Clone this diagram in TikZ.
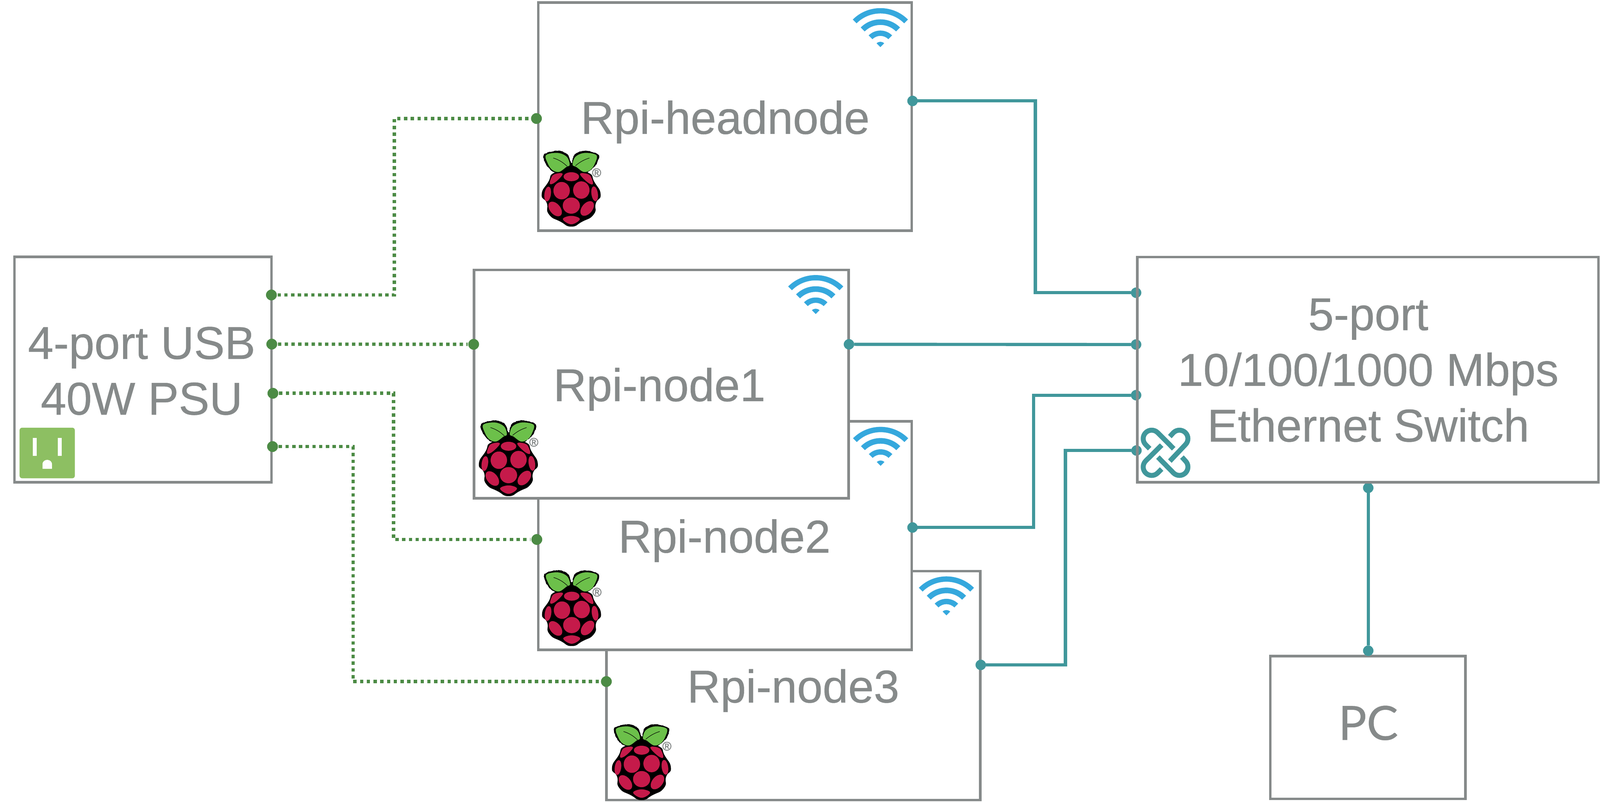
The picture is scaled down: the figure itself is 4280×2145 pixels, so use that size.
\documentclass[tikz,border=0pt]{standalone}
\usepackage{fontspec}
\setmainfont[FakeBold=0.5]{Liberation Sans}
\newfontfamily\pcfont[FakeBold=0.5]{Lato}
\newfontfamily\regfont[FakeBold=2]{Liberation Sans}
\usetikzlibrary{decorations.pathmorphing}
\definecolor{boxgrey}{HTML}{868A8A}
\definecolor{usbgreen}{HTML}{4C8B45}
\definecolor{nettea}{HTML}{40979B}
\definecolor{wifiblue}{HTML}{35A8DD}
\definecolor{plugbg}{HTML}{8DBF62}
\definecolor{berry}{HTML}{C51A4A}
\definecolor{leaf}{HTML}{6CC04A}
\tikzset{
  boxnode/.style={draw=boxgrey,fill=white,line width=6.8pt,inner sep=0pt,outer sep=0pt,rectangle},
  boxline/.style={draw=boxgrey,line width=6.8pt},
  lbl/.style={font=\fontsize{123}{149}\selectfont,text=boxgrey,inner sep=0pt,outer sep=0pt,anchor=base,align=center},
  gdot/.style={circle,fill=usbgreen,minimum size=29pt,inner sep=0pt,outer sep=2pt},
  tdot/.style={circle,fill=nettea,minimum size=28pt,inner sep=0pt,outer sep=0pt},
  gline/.style={draw=usbgreen,line width=9pt,dash pattern=on 9pt off 9pt,line cap=butt},
  tline/.style={draw=nettea,line width=8.5pt,line join=miter},
  knotline/.style={draw=nettea,line width=13.3pt,line cap=butt,line join=round},
  wifiband/.style={fill=wifiblue},
  pics/rpilogo/.style={code={
    \begin{scope}[x=.3333pt,y=-.3333pt]
      % leaves (black backing, green face)
      \fill[black,decorate,decoration={random steps,segment length=3pt,amplitude=.8pt}]
        plot[smooth cycle,tension=.6] coordinates {(108,100) (215,70) (295,100) (325,165) (352,100) (432,70) (538,100) (530,170) (470,232) (425,245) (325,240) (225,245) (170,232) (118,170)};
      \fill[black] (270,170) rectangle (380,260);
      % body
      \fill[black] plot[smooth cycle,tension=1] coordinates {(325,225) (460,245) (510,320) (560,420) (522,490) (505,580) (410,640) (325,678) (240,640) (145,580) (128,490) (87,420) (140,320) (190,245)};
      \fill[leaf] plot[smooth cycle,tension=.6] coordinates {(122,105) (215,87) (288,118) (312,182) (285,200) (225,240) (170,222) (135,170)};
      \fill[leaf] plot[smooth cycle,tension=.6] coordinates {(526,105) (432,87) (358,118) (335,182) (365,200) (425,240) (480,222) (515,170)};
      \draw[black,line width=1.2pt] (180,128) .. controls (235,145) and (265,170) .. (292,195);
      \draw[black,line width=1.2pt] (470,128) .. controls (415,145) and (385,168) .. (358,190);
      % drupelets
      \fill[berry] (325,278) ellipse [x radius=62,y radius=36];
      \fill[berry] plot[smooth cycle,tension=.7] coordinates {(255,255) (190,258) (160,295) (156,338) (205,315)};
      \fill[berry] plot[smooth cycle,tension=.7] coordinates {(395,255) (460,258) (490,295) (495,340) (445,315)};
      \fill[berry] (247,390) ellipse [x radius=66,y radius=70];
      \fill[berry] (405,385) ellipse [x radius=66,y radius=70];
      \fill[berry] (325,510) ellipse [x radius=69,y radius=65];
      \fill[berry,shift={(135,417)},rotate=-8] (0,0) ellipse [x radius=26,y radius=60];
      \fill[berry,shift={(512,415)},rotate=8] (0,0) ellipse [x radius=26,y radius=60];
      \fill[berry,shift={(195,537)},rotate=40] (0,0) ellipse [x radius=42,y radius=68];
      \fill[berry,shift={(452,533)},rotate=-40] (0,0) ellipse [x radius=42,y radius=68];
      \fill[berry] plot[smooth cycle,tension=.7] coordinates {(257,618) (325,592) (393,618) (325,660)};
      \node[font=\fontsize{33}{33}\selectfont\regfont,text=boxgrey,inner sep=0pt] (-reg) at (528,246) {®};
    \end{scope}
  }},
  pics/wifiicon/.style={code={
    \foreach \ro/\ri in {104.3/90,74.3/59.3,44.3/30}{
      \fill[wifiband] (45:\ro pt) arc [start angle=45,end angle=135,radius=\ro pt]
        -- (135:\ri pt) arc [start angle=135,end angle=45,radius=\ri pt] -- cycle;
    }
    \fill[wifiband] (0pt,0pt) -- (45:14.3pt) arc [start angle=45,end angle=135,radius=14.3pt] -- cycle;
  }},
  pics/knoticon/.style={code={
    \begin{scope}[x=.3333pt,y=-.3333pt]
      \draw[knotline] (166,240) -- (134,208) arc [start angle=225,end angle=45,radius=22.67pt] -- (359,241);
      \draw[knotline] (328,340) -- (453,208) arc [start angle=-45,end angle=135,radius=22.67pt] -- (328,143);
      \draw[knotline] (262,212) -- (134,339) arc [start angle=135,end angle=315,radius=22.67pt] -- (262,404);
      \draw[knotline] (232,308) -- (357,435) arc [start angle=225,end angle=405,radius=22.67pt] -- (425,308);
    \end{scope}
  }},
  pics/plugicon/.style={code={
    \fill[plugbg,rounded corners=7pt] (52.3,1144) rectangle (200.3,1279.3);
    \fill[white] (88,1171) rectangle (98.3,1219.3);
    \fill[white] (154.3,1171) rectangle (164.7,1219.3);
    \fill[white] (113.7,1254) -- (113.7,1242) .. controls (113.7,1226) and (139,1226) .. (139,1242) -- (139,1254) -- cycle;
  }}
}
\begin{document}
\begin{tikzpicture}[x=1pt,y=-1pt]
\useasboundingbox (0,0) rectangle (4280,2145);
\fill[white] (0,0) rectangle (4280,2145);

% boxes, back to front
\node[boxnode,minimum width=687.4pt,minimum height=603pt] (psu) at (382.3,988.5) {};
\node[boxnode,minimum width=999pt,minimum height=610pt] (head) at (1939.5,312) {};
\node[boxnode,minimum width=1000pt,minimum height=612.5pt] (n3) at (2122,1833.75) {};
\node[boxnode,minimum width=999pt,minimum height=611pt] (n2) at (1939.5,1432.5) {};
\node[boxnode,minimum width=1002pt,minimum height=611pt] (n1) at (1769,1027.5) {};
\node[boxnode,minimum width=1234pt,minimum height=602.5pt] (sw) at (3659,988.75) {};
\node[boxnode,minimum width=522pt,minimum height=382pt] (pc) at (3659,1946) {};

% labels
\node[lbl] (psulbl) at (379,1109) {4-port USB\\40W PSU};
\node[lbl] (headlbl) at (1940,358) {Rpi-headnode};
\node[lbl] (n1lbl) at (1764,1073) {Rpi-node1};
\node[lbl] (n2lbl) at (1938,1478) {Rpi-node2};
\node[lbl] (n3lbl) at (2122,1879) {Rpi-node3};
\node[lbl] (swlbl) at (3660,1181) {5-port\\10/100/1000 Mbps\\Ethernet Switch};
\node[lbl,font=\fontsize{126}{149}\selectfont\pcfont] (pclbl) at (3660,1979) {PC};

% icons
\pic (lg0) at (1420,380) {rpilogo};
\pic (lg1) at (1252,1101) {rpilogo};
\pic (lg2) at (1421,1502) {rpilogo};
\pic (lg3) at (1608,1914) {rpilogo};
\pic (wf0) at (2355,126) {wifiicon};
\pic (wf1) at (2182,840) {wifiicon};
\pic (wf2) at (2355.6,1246) {wifiicon};
\pic (wf3) at (2531.6,1646) {wifiicon};
\pic (plug) at (0,0) {plugicon};
\pic (knot) at (3020,1120) {knoticon};

% green ports
\node[gdot] (pa) at (726,789) {};
\node[gdot] (pb) at (727,920.5) {};
\node[gdot] (pc3) at (730,1052) {};
\node[gdot] (pd) at (729,1194.5) {};
\node[gdot] (ghead) at (1435,317) {};
\node[gdot] (gn1) at (1267,921) {};
\node[gdot] (gn2) at (1436,1443) {};
\node[gdot] (gn3) at (1622,1823) {};
\coordinate (ca) at (1055,550);
\coordinate (cc) at (1053,1250);
\coordinate (cd) at (944.5,1500);
\draw[gline] (pa) -| (ca) |- (ghead);
\draw[gline] (pb) -- (gn1);
\draw[gline] (pc3) -| (cc) |- (gn2);
\draw[gline] (pd) -| (cd) |- (gn3);

% teal ports
\node[tdot] (thead) at (2441,270) {};
\node[tdot] (tn1) at (2271,921) {};
\node[tdot] (tn2) at (2441,1411) {};
\node[tdot] (tn3) at (2623.5,1778.5) {};
\node[tdot] (ts1) at (3039,783) {};
\node[tdot] (ts2) at (3039,921.5) {};
\node[tdot] (ts3) at (3039,1057) {};
\node[tdot] (ts4) at (3040,1205) {};
\node[tdot] (ts5) at (3660,1305) {};
\node[tdot] (tpc) at (3660,1740.5) {};
\coordinate (c1) at (2769.5,500);
\coordinate (c3) at (2764.5,1200);
\coordinate (c4) at (2850,1500);
\draw[tline] (thead) -| (c1) |- (ts1);
\draw[tline] (tn1) -- (ts2);
\draw[tline] (tn2) -| (c3) |- (ts3);
\draw[tline] (tn3) -| (c4) |- (ts4);
\draw[tline] (ts5) -- (tpc);

% switch outline stays above its ports
\draw[boxline] (sw.south west) rectangle (sw.north east);
\end{tikzpicture}
\end{document}
